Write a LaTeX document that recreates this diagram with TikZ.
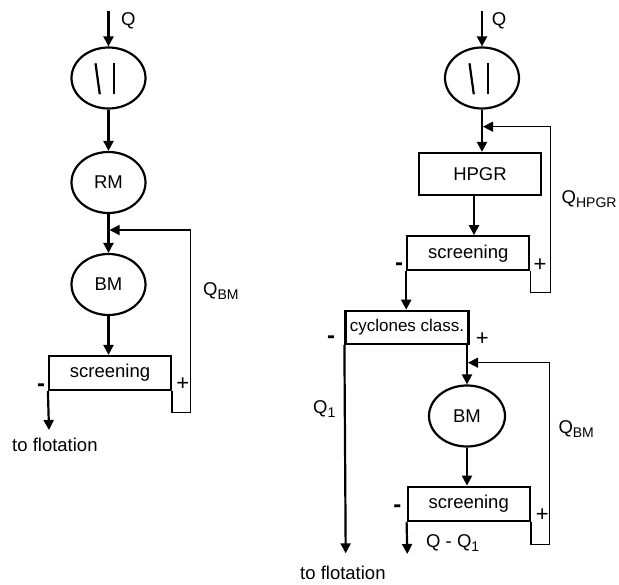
\documentclass[tikz,border=0pt]{standalone}
\usepackage{fontspec}
\setmainfont{Liberation Sans}
\usetikzlibrary{shapes.geometric,arrows.meta}
\newcommand{\mysub}[1]{\raisebox{-4pt}{\fontsize{14}{14}\selectfont #1}}
\begin{document}
\begin{tikzpicture}[x=1pt,y=-1pt,
  every node/.style={font=\fontsize{18.5}{21}\selectfont, inner sep=0pt},
  mill/.style={draw, ellipse, line width=2.2pt, minimum width=74pt, minimum height=61pt},
  unit/.style={draw, rectangle, line width=2.2pt, minimum width=122pt, minimum height=34pt},
  flow/.style={line width=2.2pt, -{Triangle[length=10pt,width=10pt]}},
  crushline/.style={line width=2.2pt},
  recyc/.style={line width=1.4pt, -{Triangle[length=10pt,width=10pt]}},
  minus/.style={font=\fontsize{24}{24}\selectfont\bfseries},
  plus/.style={font=\fontsize{22}{22}\selectfont}]
\useasboundingbox (0,0) rectangle (619,585);

% ---------------- left circuit ----------------
\node[mill] (cr1) at (108.5,78) {};
\draw[crushline] ([shift={(-13,-14.7)}]cr1.center) -- ([shift={(-8.7,16.3)}]cr1.center);
\draw[crushline] ([shift={(5.5,-14.7)}]cr1.center) -- ([shift={(5.5,16.3)}]cr1.center);
\node[mill] (rm) at (108.5,182.5) {RM};
\node[mill] (bm1) at (108.5,284.5) {BM};
\node[unit] (scr1) at (110,373) {screening};

\coordinate (qin1) at (108.5,11);
\coordinate (j1) at (109.5,230);
\coordinate (fb1) at (190.7,412.7);
\coordinate (out1) at (49,430);

\draw[flow] (qin1) -- (cr1.north);
\draw[flow] (cr1.south) -- (rm.north);
\draw[flow] (rm.south) -- (bm1.north);
\draw[flow] (bm1.south) -- (bm1.south |- scr1.north);
\draw[recyc] (scr1.south east) |- (fb1) |- (j1);
\draw[flow] (scr1.south west) -- (out1);

\node[anchor=base west] (lq1) at (121,25.5) {Q};
\node[anchor=base west] (lqbm1) at (203,295.5) {Q\mysub{BM}};
\node[plus] (p1) at (182.7,384.3) {+};
\node[minus] (m1) at (41,387.7) {-};
\node[anchor=base west] (tf1) at (12,451) {to flotation};

% ---------------- right circuit ----------------
\node[mill] (cr2) at (482,78) {};
\draw[crushline] ([shift={(-12.5,-14.7)}]cr2.center) -- ([shift={(-8.2,16.3)}]cr2.center);
\draw[crushline] ([shift={(6,-14.7)}]cr2.center) -- ([shift={(6,16.3)}]cr2.center);
\node[unit, minimum height=42pt] (hpgr) at (480,174) {HPGR};
\node[unit] (scr2) at (468.3,253.3) {screening};
\node[unit, minimum width=123pt, minimum height=33pt, font=\fontsize{17}{20}\selectfont] (cyc) at (407,327.3) {cyclones class.};
\node[mill, minimum width=76pt] (bm2) at (467,416) {BM};
\node[unit] (scr3) at (468.7,503.7) {screening};

\coordinate (qin2) at (482,11);
\coordinate (j2) at (483,126.7);
\coordinate (fb2) at (550.7,292.7);
\coordinate (j3) at (468,362.7);
\coordinate (fb3) at (549.3,544.3);
\coordinate (out2) at (345.7,553.3);
\coordinate (out3) at (407.3,554);

\draw[flow] (qin2) -- (cr2.north);
\draw[flow] (cr2.south) -- (cr2.south |- hpgr.north);
\draw[flow] ([xshift=-6pt]hpgr.south) -- ([xshift=-6pt]hpgr.south |- scr2.north);
\draw[recyc] (scr2.south east) |- (fb2) |- (j2);
\draw[flow] (scr2.south west) -- (scr2.south west |- cyc.north);
\draw[flow] (cyc.south west) -- (out2);
\draw[flow] (bm2.north |- cyc.south) -- (bm2.north);
\draw[recyc] (scr3.south east) |- (fb3) |- (j3);
\draw[flow] (bm2.south) -- (bm2.south |- scr3.north);
\draw[flow] (scr3.south west) -- (out3);

\node[anchor=base west] (lq2) at (491.7,25.5) {Q};
\node[anchor=base west] (lqh) at (561.5,204) {Q\mysub{HPGR}};
\node[anchor=base west] (lq1r) at (313,414) {Q\mysub{1}};
\node[anchor=base west] (lqbm2) at (558.3,434) {Q\mysub{BM}};
\node[anchor=base west] (lqq) at (426,547) {Q - Q\mysub{1}};
\node[anchor=base west] (tf2) at (300,579) {to flotation};

\node[plus] (p2) at (540,265) {+};
\node[minus] (m2) at (399,266.7) {-};
\node[plus] (p3) at (482.3,339.3) {+};
\node[minus] (m3) at (331,340) {-};
\node[plus] (p4) at (542.3,515) {+};
\node[minus] (m4) at (397.3,508.3) {-};
\end{tikzpicture}
\end{document}
